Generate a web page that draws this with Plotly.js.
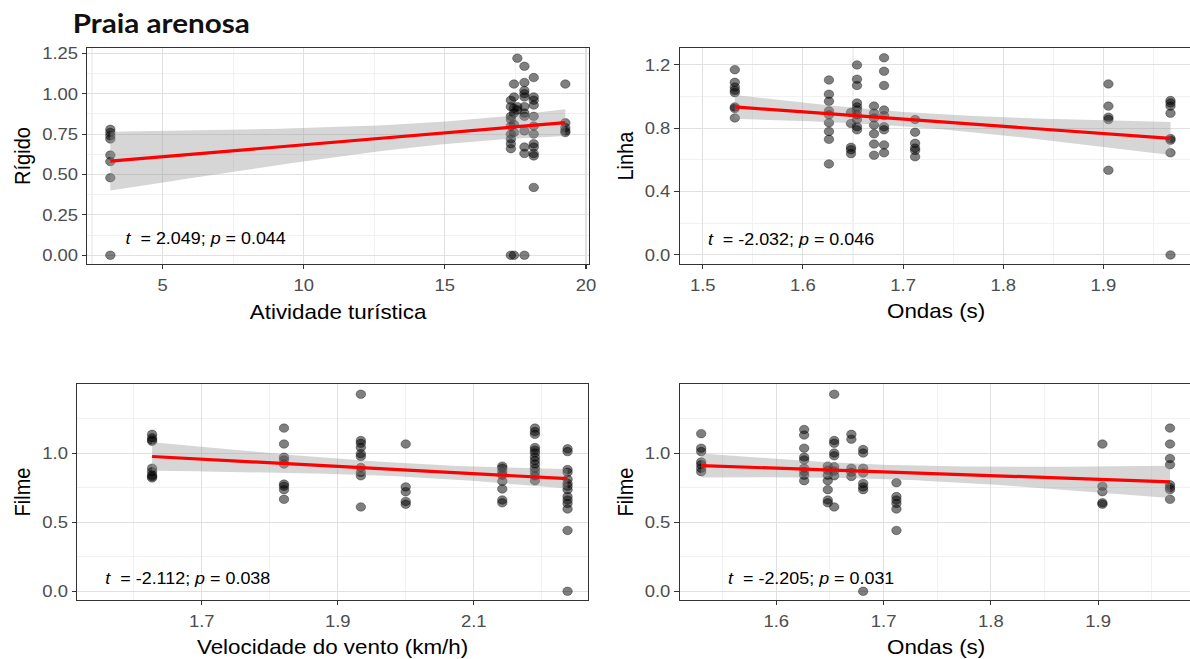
<!DOCTYPE html>
<html><head><meta charset="utf-8">
<script src="https://cdn.plot.ly/plotly-3.0.1.min.js"></script>
<style>
html,body{margin:0;padding:0;overflow:hidden;background:#fff;width:1190px;height:659px}
#wrap{width:1200px;height:659px;overflow:hidden}
#chart{width:1071.4px;height:659px;transform:scaleX(1.12);transform-origin:0 0}
</style></head><body><div id="wrap"><div id="chart"></div></div>
<script>
// ---- Data ----
// Panel 1: Rígido vs Atividade turística
const p1x = [3.15,3.15,3.15,3.15,3.15,3.15,3.15,3.15,
  17.34,17.34,17.34,17.34,17.34,17.34,17.34,17.34,17.34,17.34,
  17.45,17.45,17.45,17.45,17.45,17.45,17.45,
  17.57,17.57,17.57,
  17.82,17.82,17.82,17.82,17.82,17.82,17.82,17.82,17.82,17.82,17.82,17.82,
  18.15,18.15,18.15,18.15,18.15,18.15,18.15,18.15,18.15,18.15,18.15,18.15,
  19.27,19.27,19.27,19.27,19.27];
const p1y = [0.78,0.76,0.74,0.72,0.62,0.58,0.48,0.0,
  0.96,0.92,0.86,0.84,0.80,0.75,0.72,0.69,0.66,0.0,
  1.06,0.98,0.91,0.88,0.81,0.76,0.0,
  1.22,0.92,0.90,
  1.17,1.07,1.02,1.00,0.98,0.92,0.88,0.86,0.77,0.67,0.63,0.0,
  1.10,0.98,0.96,0.93,0.86,0.80,0.75,0.69,0.67,0.63,0.615,0.42,
  1.06,0.82,0.79,0.77,0.76];
// Panel 2: Linha vs Ondas (s)
const p2x = [1.532,1.532,1.532,1.532,1.532,1.532,1.532,1.532,
  1.626,1.626,1.626,1.626,1.626,1.626,1.626,1.626,1.626,
  1.648,1.648,1.648,1.648,1.648,
  1.654,1.654,1.654,1.654,1.654,1.654,1.654,1.654,1.654,1.654,
  1.671,1.671,1.671,1.671,1.671,1.671,1.671,
  1.681,1.681,1.681,1.681,1.681,1.681,1.681,1.681,1.681,
  1.712,1.712,1.712,1.712,1.712,1.712,
  1.905,1.905,1.905,1.905,1.905,
  1.967,1.967,1.967,1.967,1.967,1.967,1.967,1.967];
const p2y = [1.17,1.09,1.06,1.04,1.025,0.935,0.925,0.865,
  1.105,1.015,0.97,0.91,0.885,0.835,0.78,0.73,0.575,
  0.90,0.83,0.68,0.665,0.64,
  1.20,1.11,1.07,0.96,0.935,0.915,0.885,0.855,0.81,0.79,
  0.94,0.895,0.865,0.82,0.765,0.70,0.63,
  1.245,1.16,1.07,0.915,0.88,0.81,0.79,0.695,0.645,
  0.855,0.775,0.705,0.675,0.66,0.62,
  1.08,0.94,0.87,0.855,0.535,
  0.975,0.96,0.94,0.895,0.735,0.725,0.645,0.0];
// Panel 3: Filme vs Velocidade do vento (km/h)
const p3x = [1.627,1.627,1.627,1.627,1.627,1.627,1.627,1.627,1.627,
  1.821,1.821,1.821,1.821,1.821,1.821,1.821,1.821,1.821,
  1.934,1.934,1.934,1.934,1.934,1.934,1.934,1.934,1.934,1.934,
  2.0,2.0,2.0,2.0,2.0,
  2.142,2.142,2.142,2.142,2.142,2.142,2.142,2.142,
  2.19,2.19,2.19,2.19,2.19,2.19,2.19,2.19,2.19,2.19,2.19,2.19,2.19,
  2.238,2.238,2.238,2.238,2.238,2.238,2.238,2.238,2.238,2.238,2.238,2.238,2.238,2.238];
const p3y = [1.135,1.11,1.095,1.085,0.89,0.865,0.84,0.83,0.82,
  1.18,1.065,0.97,0.95,0.92,0.775,0.76,0.735,0.665,
  1.425,1.09,1.07,1.04,0.995,0.975,0.895,0.86,0.835,0.61,
  1.065,0.755,0.72,0.65,0.63,
  0.905,0.89,0.865,0.84,0.795,0.74,0.66,0.64,
  1.18,1.155,1.135,1.04,1.02,1.0,0.97,0.945,0.92,0.89,0.865,0.835,0.80,
  1.03,1.01,0.88,0.86,0.81,0.78,0.76,0.735,0.685,0.66,0.635,0.595,0.44,0.0];
// Panel 4: Filme vs Ondas (s)
const p4x = [1.530,1.530,1.530,1.530,1.530,1.530,1.530,
  1.626,1.626,1.626,1.626,1.626,1.626,1.626,1.626,1.626,
  1.648,1.648,1.648,1.648,1.648,1.648,1.648,
  1.654,1.654,1.654,1.654,1.654,1.654,1.654,1.654,1.654,
  1.670,1.670,1.670,1.670,1.670,
  1.681,1.681,1.681,1.681,1.681,1.681,1.681,1.681,
  1.712,1.712,1.712,1.712,1.712,1.712,
  1.904,1.904,1.904,1.904,1.904,
  1.967,1.967,1.967,1.967,1.967,1.967,1.967,1.967];
const p4y = [1.14,1.035,1.01,0.935,0.915,0.89,0.865,
  1.17,1.13,1.035,0.97,0.95,0.89,0.865,0.84,0.80,
  0.905,0.875,0.84,0.80,0.735,0.66,0.64,
  1.425,1.09,1.07,1.0,0.98,0.90,0.87,0.835,0.61,
  1.135,1.10,0.89,0.86,0.83,
  1.025,1.0,0.89,0.855,0.78,0.755,0.735,0.0,
  0.785,0.685,0.66,0.635,0.595,0.44,
  1.065,0.76,0.72,0.64,0.63,
  1.18,1.065,0.96,0.915,0.77,0.75,0.735,0.665];

const xTitles = ['Atividade turística','Ondas (s)','Velocidade do vento (km/h)','Ondas (s)'];
const yTitles = ['Rígido','Linha','Filme','Filme'];
const statLabels = ['<i>t</i>&nbsp; = 2.049; <i>p</i> = 0.044',
                    '<i>t</i>&nbsp; = -2.032; <i>p</i> = 0.046',
                    '<i>t</i>&nbsp; = -2.112; <i>p</i> = 0.038',
                    '<i>t</i>&nbsp; = -2.205; <i>p</i> = 0.031'];
const chartTitle = 'Praia arenosa';

// ---- linear fit with 95% confidence band (as geom_smooth(method = "lm")) ----
function qt975(df){
  const z = 1.959964;
  return z + (z**3 + z)/(4*df) + (5*z**5 + 16*z**3 + 3*z)/(96*df*df)
    + (3*z**7 + 19*z**5 + 17*z**3 - 15*z)/(384*df**3);
}
function lmFit(xs, ys){
  const n = xs.length;
  const mx = xs.reduce((a,b)=>a+b,0)/n, my = ys.reduce((a,b)=>a+b,0)/n;
  let sxx=0, sxy=0;
  for(let i=0;i<n;i++){ sxx += (xs[i]-mx)**2; sxy += (xs[i]-mx)*(ys[i]-my); }
  const b = sxy/sxx, a = my - b*mx;
  let sse = 0;
  for(let i=0;i<n;i++){ sse += (ys[i]-a-b*xs[i])**2; }
  const s = Math.sqrt(sse/(n-2)), tq = qt975(n-2);
  const lo = Math.min(...xs), hi = Math.max(...xs);
  const gx=[], gy=[], up=[], dn=[];
  for(let k=0;k<=80;k++){
    const x = lo + (hi-lo)*k/80, y = a + b*x;
    const se = s*Math.sqrt(1/n + (x-mx)**2/sxx);
    gx.push(x); gy.push(y); up.push(y + tq*se); dn.push(y - tq*se);
  }
  return {gx, gy, up, dn};
}

const FONT = 'Liberation Sans, Arial, sans-serif';
const W = 1071.4, H = 659, SX = 1200; // SX: rendered width after horizontal stretch

const panels = [
  {x:p1x, y:p1y, xd:[87.5,589], yd:[47.7,264.3], xr:[2.34,20.1], yr:[-0.056,1.285],
   xt0:0, xdt:5, xmd:2.5, yt0:0, ydt:0.25, ymd:0.125, xf:'d', yf:'.2f', stat:[123,238]},
  {x:p2x, y:p2y, xd:[680,1193], yd:[48.3,264], xr:[1.477,1.989], yr:[-0.057,1.305],
   xt0:1.5, xdt:0.1, xmd:0.05, yt0:0, ydt:0.4, ymd:0.2, xf:'.1f', yf:'.1f', stat:[706,239]},
  {x:p3x, y:p3y, xd:[77.3,588.2], yd:[384,600], xr:[1.517,2.268], yr:[-0.063,1.499],
   xt0:1.7, xdt:0.2, xmd:0.1, yt0:0, ydt:0.5, ymd:0.25, xf:'.1f', yf:'.1f', stat:[103,578]},
  {x:p4x, y:p4y, xd:[680,1193], yd:[384,600], xr:[1.51,1.988], yr:[-0.063,1.499],
   xt0:1.6, xdt:0.1, xmd:0.05, yt0:0, ydt:0.5, ymd:0.25, xf:'.1f', yf:'.1f', stat:[726,578]}
];

const data = [];
const layout = {
  width: W, height: H, margin:{l:0,r:0,t:0,b:0},
  paper_bgcolor:'#fff', plot_bgcolor:'#fff', showlegend:false,
  font:{family:FONT, color:'#000'},
  title:{text:'<b>'+chartTitle+'</b>', x:72.7/SX, xref:'paper', xanchor:'left',
         y:1-23.3/H, yref:'paper', yanchor:'middle',
         font:{family:'Lato, Open Sans, sans-serif', size:26.5, color:'#111'}},
  annotations:[]
};

panels.forEach((p,i)=>{
  const k = i===0 ? '' : String(i+1);
  const xa = 'x'+k, ya = 'y'+k;
  const f = lmFit(p.x, p.y);
  data.push({type:'scatter', mode:'markers', x:p.x, y:p.y, xaxis:xa, yaxis:ya,
    marker:{size:8.5, color:'rgba(0,0,0,0.5)', line:{width:0.8, color:'rgba(0,0,0,0.4)'}},
    hoverinfo:'x+y'});
  data.push({type:'scatter', mode:'lines', x:f.gx.concat(f.gx.slice().reverse()),
    y:f.up.concat(f.dn.slice().reverse()), xaxis:xa, yaxis:ya, fill:'toself',
    fillcolor:'rgba(153,153,153,0.4)', line:{width:0}, hoverinfo:'skip'});
  data.push({type:'scatter', mode:'lines', x:f.gx, y:f.gy, xaxis:xa, yaxis:ya,
    line:{color:'#ff0000', width:3.2}, hoverinfo:'skip'});
  const common = {
    zeroline:false, showline:true, mirror:true, linecolor:'#333', linewidth:1.1,
    ticks:'outside', ticklen:4, tickwidth:1.1, tickcolor:'#333',
    tickfont:{family:FONT, size:16.5, color:'#4d4d4d'},
    showgrid:true, gridcolor:'#e0e0e0', gridwidth:1.1,
    automargin:false, tickmode:'linear', fixedrange:true
  };
  layout['xaxis'+k] = Object.assign({}, common, {
    domain:[p.xd[0]/SX, p.xd[1]/SX], range:p.xr, anchor:ya,
    tick0:p.xt0, dtick:p.xdt, tickformat:p.xf, ticklabelstandoff:2,
    minor:{showgrid:true, tick0:p.xt0, dtick:p.xmd, gridcolor:'#f1f1f1', gridwidth:0.7, ticks:''},
    title:{text:xTitles[i], font:{family:FONT, size:20, color:'#000'}, standoff:11}
  });
  layout['yaxis'+k] = Object.assign({}, common, {
    domain:[1-p.yd[1]/H, 1-p.yd[0]/H], range:p.yr, anchor:xa,
    tick0:p.yt0, dtick:p.ydt, tickformat:p.yf,
    minor:{showgrid:true, tick0:p.yt0, dtick:p.ymd, gridcolor:'#f1f1f1', gridwidth:0.7, ticks:''},
    title:{text:yTitles[i], font:{family:FONT, size:20, color:'#000'}, standoff:4}
  });
  layout.annotations.push({text:statLabels[i], xref:'paper', yref:'paper',
    x:p.stat[0]/SX, y:1-p.stat[1]/H, xanchor:'left', yanchor:'middle', showarrow:false,
    font:{family:FONT, size:16, color:'#000'}});
});

Plotly.newPlot('chart', data, layout, {displayModeBar:false, staticPlot:false});
</script></body></html>
